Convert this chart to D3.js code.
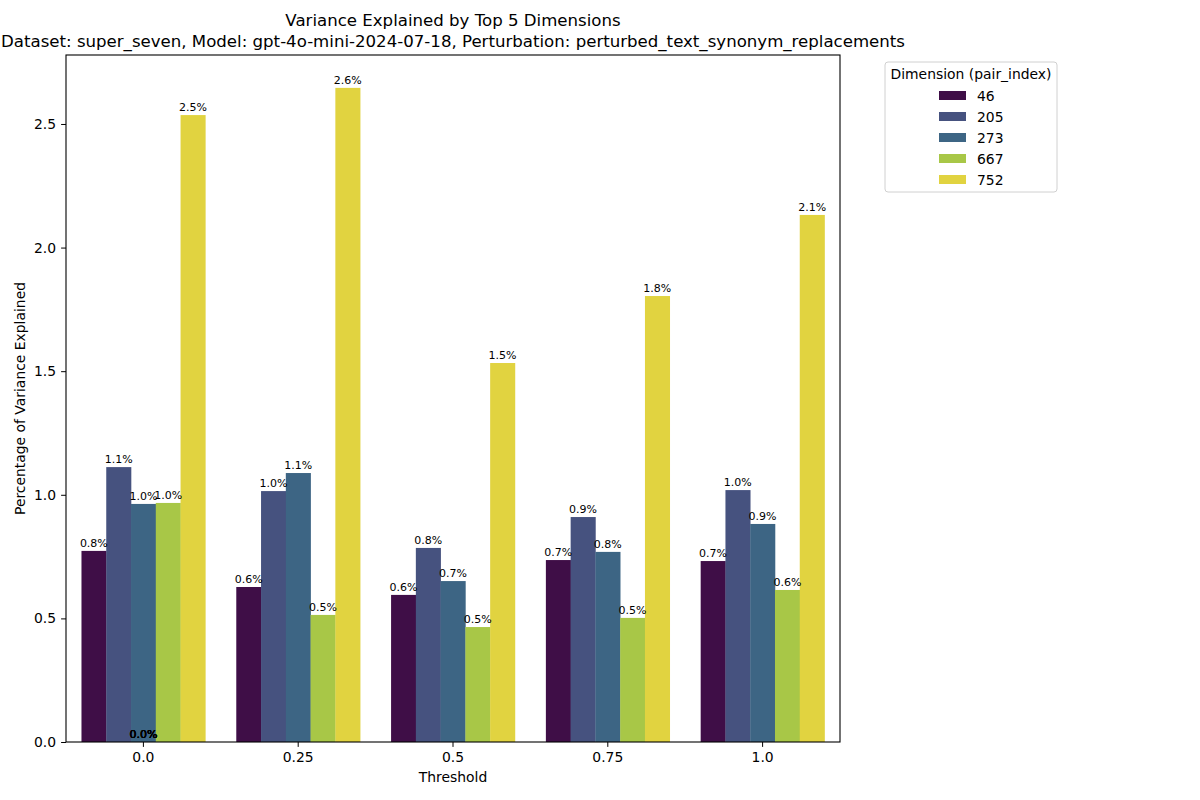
<!DOCTYPE html>
<html>
<head>
<meta charset="utf-8">
<script src="https://cdn.jsdelivr.net/npm/d3@7"></script>
<style>
  body { margin: 0; background: #fff; }
  svg { font-family: "DejaVu Sans", sans-serif; }
</style>
</head>
<body>
<div id="chart"></div>
<script>
// thresholds on the x axis
var thresholds = ["0.0", "0.25", "0.5", "0.75", "1.0"];
// dimensions (pair_index) shown as hue
var dims = ["46", "205", "273", "667", "752"];
var dimColors = ["#3f0e47", "#46527f", "#3d6584", "#a8c747", "#e1d340"];
// variance explained (%) per dimension, one value per threshold
var v46  = [0.773, 0.627, 0.595, 0.736, 0.732];
var v205 = [1.112, 1.015, 0.785, 0.910, 1.019];
var v273 = [0.963, 1.088, 0.651, 0.769, 0.882];
var v667 = [0.967, 0.514, 0.465, 0.502, 0.615];
var v752 = [2.536, 2.646, 1.533, 1.804, 2.132];
var yTicks = [0.0, 0.5, 1.0, 1.5, 2.0, 2.5];
// empty patches that still get a "0.0%" label at the first threshold
var zeroPatches = ["0.0", "0.0", "0.0", "0.0", "0.0"];

var series = [v46, v205, v273, v667, v752];
var data = [];
thresholds.forEach(function(t, i) {
  dims.forEach(function(d, j) {
    data.push({threshold: t, dim: d, value: series[j][i]});
  });
});

var W = 1200, H = 800;
var margin = {top: 55, right: 360, bottom: 58, left: 66},
    width = W - margin.left - margin.right,
    height = H - margin.top - margin.bottom;

var svg = d3.select("#chart").append("svg")
  .attr("width", W).attr("height", H);

var g = svg.append("g")
  .attr("transform", "translate(" + margin.left + "," + margin.top + ")");

var x = d3.scaleBand().domain(thresholds).range([0, width]).paddingInner(0.2).paddingOuter(0.1);
var xSub = d3.scaleBand().domain(dims).range([0, x.bandwidth()]);
var y = d3.scaleLinear().domain([0, 2.779]).range([height, 0]);
var color = d3.scaleOrdinal().domain(dims).range(dimColors);

// bars
g.selectAll("rect.bar").data(data).enter().append("rect")
  .attr("class", "bar")
  .attr("x", function(d) { return x(d.threshold) + xSub(d.dim); })
  .attr("y", function(d) { return y(d.value); })
  .attr("width", xSub.bandwidth() + 0.3)
  .attr("height", function(d) { return height - y(d.value); })
  .attr("fill", function(d) { return color(d.dim); });

// value labels
g.selectAll("text.lbl").data(data).enter().append("text")
  .attr("class", "lbl")
  .attr("x", function(d) { return x(d.threshold) + xSub(d.dim) + xSub.bandwidth() / 2; })
  .attr("y", function(d) { return y(d.value) - 4; })
  .attr("text-anchor", "middle")
  .attr("font-size", "11px")
  .attr("fill", "#000")
  .text(function(d) { return d3.format(".1f")(d.value) + "%"; });

// zero-height labels stacked at the first group
g.selectAll("text.zero").data(zeroPatches).enter().append("text")
  .attr("class", "zero")
  .attr("x", x(thresholds[0]) + x.bandwidth() / 2)
  .attr("y", y(0) - 4)
  .attr("text-anchor", "middle")
  .attr("font-size", "11px")
  .attr("fill", "#000")
  .text(function(d) { return d + "%"; });

// axes
var xAxis = g.append("g")
  .attr("transform", "translate(0," + height + ")")
  .call(d3.axisBottom(x).tickSizeOuter(0).tickSize(4.9).tickPadding(5));
var yAxis = g.append("g")
  .call(d3.axisLeft(y).tickValues(yTicks).tickFormat(d3.format(".1f")).tickSizeOuter(0).tickSize(4.9).tickPadding(5));
[xAxis, yAxis].forEach(function(a) {
  a.selectAll("text").attr("font-size", "13.9px").attr("fill", "#000").attr("font-family", "DejaVu Sans");
  a.selectAll("line").attr("stroke", "#000").attr("stroke-width", 1);
  a.select(".domain").remove();
});

// frame
g.append("rect")
  .attr("width", width).attr("height", height)
  .attr("fill", "none").attr("stroke", "#000").attr("stroke-width", 1.1);

// axis titles
g.append("text")
  .attr("x", width / 2).attr("y", height + 40)
  .attr("text-anchor", "middle").attr("font-size", "13.9px")
  .text("Threshold");
g.append("text")
  .attr("transform", "translate(" + (-41) + "," + (height / 2) + ") rotate(-90)")
  .attr("text-anchor", "middle").attr("font-size", "13.9px")
  .text("Percentage of Variance Explained");

// title
svg.append("text")
  .attr("x", margin.left + width / 2).attr("y", 26)
  .attr("text-anchor", "middle").attr("font-size", "16.6px")
  .text("Variance Explained by Top 5 Dimensions");
svg.append("text")
  .attr("x", margin.left + width / 2).attr("y", 47)
  .attr("text-anchor", "middle").attr("font-size", "16.6px")
  .text("Dataset: super_seven, Model: gpt-4o-mini-2024-07-18, Perturbation: perturbed_text_synonym_replacements");

// legend
var lg = svg.append("g").attr("transform", "translate(885,62)");
lg.append("rect")
  .attr("width", 172).attr("height", 130).attr("rx", 3)
  .attr("fill", "#fff").attr("stroke", "#d0d0d0");
lg.append("text")
  .attr("x", 86).attr("y", 17).attr("text-anchor", "middle")
  .attr("font-size", "13.9px").text("Dimension (pair_index)");
var items = lg.selectAll("g.item").data(dims).enter().append("g")
  .attr("class", "item")
  .attr("transform", function(d, i) { return "translate(54," + (29 + i * 21) + ")"; });
items.append("rect")
  .attr("width", 27).attr("height", 9)
  .attr("fill", function(d) { return color(d); });
items.append("text")
  .attr("x", 38).attr("y", 9.5)
  .attr("font-size", "13.9px")
  .text(function(d) { return d; });
</script>
</body>
</html>
